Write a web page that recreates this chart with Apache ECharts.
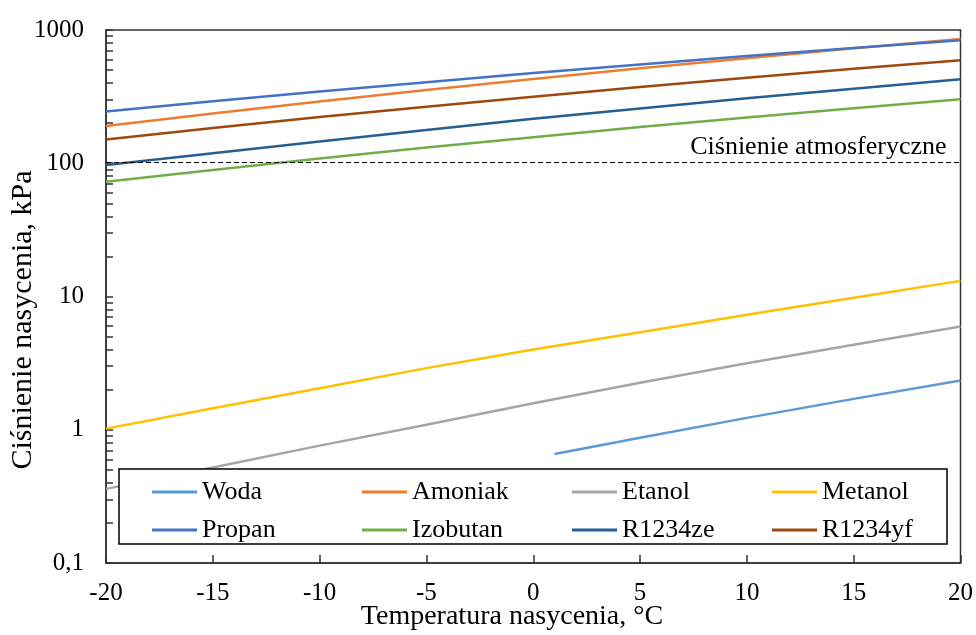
<!DOCTYPE html>
<html>
<head>
<meta charset="utf-8">
<script src="https://cdn.jsdelivr.net/npm/echarts@6/dist/echarts.min.js"></script>
<style>
  html, body { margin: 0; padding: 0; background: #fff; }
  #chart { width: 976px; height: 635px; }
</style>
</head>
<body>
<div id="chart"></div>
<script>
// temperatures (°C)
var temps = [-20, -15, -10, -5, 0, 5, 10, 15, 20];
var wodaTemps = [1, 5, 10, 15, 20];

// saturation pressure (kPa)
var woda = [0.657, 0.872, 1.228, 1.705, 2.339];
var amoniak = [190.2, 236.3, 290.8, 354.8, 429.4, 515.7, 615.0, 728.6, 857.5];
var etanol = [0.36, 0.52, 0.76, 1.09, 1.58, 2.25, 3.15, 4.35, 5.95];
var metanol = [1.02, 1.45, 2.05, 2.9, 4.0, 5.4, 7.3, 9.8, 13.1];
var propan = [244.6, 291.6, 345.2, 406.1, 474.8, 551.9, 637.9, 733.3, 838.9];
var izobutan = [72.6, 89.1, 108.5, 131.2, 157.0, 187.0, 220.5, 258.5, 302.0];
var r1234ze = [97.0, 119.0, 145.6, 177.7, 215.6, 258.0, 308.0, 363.0, 427.0];
var r1234yf = [151.0, 184.0, 222.0, 266.0, 316.0, 373.0, 439.0, 511.0, 592.0];

var atmPressure = 101.325;

var names = ['Woda', 'Amoniak', 'Etanol', 'Metanol', 'Propan', 'Izobutan', 'R1234ze', 'R1234yf'];
var colors = ['#5B9BD5', '#ED7D31', '#A5A5A5', '#FFC000', '#4472C4', '#70AD47', '#255E91', '#9E480E'];

function pairs(xs, ys) {
  return xs.map(function (x, i) { return [x, ys[i]]; });
}

var seriesData = [
  pairs(wodaTemps, woda),
  pairs(temps, amoniak),
  pairs(temps, etanol),
  pairs(temps, metanol),
  pairs(temps, propan),
  pairs(temps, izobutan),
  pairs(temps, r1234ze),
  pairs(temps, r1234yf)
];

var font = 'Liberation Serif';

var chart = echarts.init(document.getElementById('chart'));

var series = names.map(function (n, i) {
  return {
    name: n,
    type: 'line',
    data: seriesData[i],
    showSymbol: false,
    symbol: 'none',
    lineStyle: { width: 2.5, color: colors[i] },
    itemStyle: { color: colors[i] },
    z: 2
  };
});

// atmospheric pressure reference line
series.push({
  name: 'atm',
  type: 'line',
  data: [],
  markLine: {
    silent: true,
    symbol: 'none',
    lineStyle: { color: '#000', width: 1.2, type: [5, 3] },
    label: {
      position: 'insideEndTop',
      formatter: 'Ciśnienie atmosferyczne',
      fontFamily: font,
      fontSize: 26,
      color: '#000',
      distance: [14, 2]
    },
    data: [{ yAxis: atmPressure }]
  }
});

// legend laid out as 4 columns x 2 rows
var legendCols = [147, 357, 567, 767];
var legends = legendCols.map(function (x, c) {
  return {
    data: [names[c], names[c + 4]],
    orient: 'vertical',
    left: x, top: 474,
    itemWidth: 45, itemHeight: 3, itemGap: 12, itemTextGap: 4,
    icon: 'rect',
    textStyle: { fontFamily: font, fontSize: 26, color: '#000' },
    z: 5
  };
});

var option = {
  animation: false,
  color: colors,
  grid: {
    left: 106, right: 14, top: 30, bottom: 72,
    show: true, borderColor: '#333', borderWidth: 1.5
  },
  xAxis: {
    type: 'value',
    min: -20, max: 20, interval: 5,
    axisLine: { show: true, onZero: false, lineStyle: { color: '#333', width: 1.5 } },
    axisTick: { inside: true, length: 8, lineStyle: { color: '#333', width: 1.5 } },
    axisLabel: { fontFamily: font, fontSize: 25, color: '#000', margin: 18 },
    splitLine: { show: false }
  },
  yAxis: {
    type: 'log',
    logBase: 10,
    min: 0.1, max: 1000,
    axisLine: { show: true, onZero: false, lineStyle: { color: '#333', width: 1.5 } },
    axisTick: { inside: true, length: 7, lineStyle: { color: '#333', width: 1.5 } },
    minorTick: { show: true, splitNumber: 9, length: 7, lineStyle: { color: '#333', width: 1.5 } },
    axisLabel: {
      fontFamily: font, fontSize: 25, color: '#000', margin: 22,
      formatter: function (v) { return v < 1 ? String(v).replace('.', ',') : String(v); }
    },
    splitLine: { show: false }
  },
  legend: legends,
  graphic: [
    {
      type: 'rect',
      z: 4,
      shape: { x: 119, y: 469, width: 828, height: 75 },
      style: { fill: '#fff', stroke: '#000', lineWidth: 1.5 }
    },
    {
      type: 'text',
      x: 23, y: 320,
      rotation: Math.PI / 2,
      style: {
        text: 'Ciśnienie nasycenia, kPa',
        fontFamily: font, fontSize: 30, fill: '#000',
        align: 'center', verticalAlign: 'middle'
      }
    },
    {
      type: 'text',
      x: 512, y: 617,
      style: {
        text: 'Temperatura nasycenia, °C',
        fontFamily: font, fontSize: 28, fill: '#000',
        align: 'center', verticalAlign: 'middle'
      }
    }
  ],
  series: series
};

chart.setOption(option);
</script>
</body>
</html>
